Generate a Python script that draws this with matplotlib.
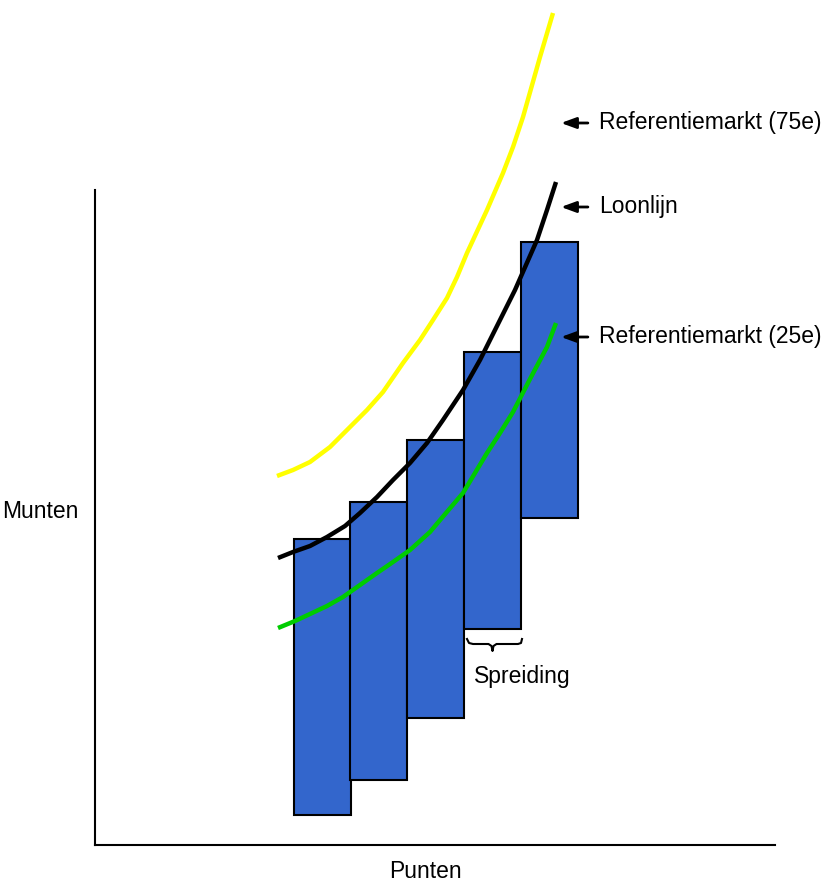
import numpy as np
import matplotlib.pyplot as plt
from matplotlib.patches import Rectangle

plt.rcParams['font.family'] = ['Liberation Sans', 'DejaVu Sans']

# salary bands (grade boxes): left edge, bottom (min) and top (max)
band_left = [199, 255, 312, 369, 426]
band_width = 57
band_min = [30, 65, 127, 216, 327]
band_max = [306, 343, 405, 493, 603]

# market and pay lines, hand drawn
p75_x = [182, 198, 215, 235, 255, 272, 288, 308, 325, 338, 352, 362, 372, 392, 408, 418, 428, 445, 458]
p75_y = [369, 375, 383, 398, 418, 435, 453, 482, 505, 525, 547, 568, 592, 635, 672, 698, 728, 788, 832]
loon_x = [183, 198, 215, 232, 250, 265, 282, 298, 315, 332, 348, 368, 385, 405, 420, 442, 452, 461]
loon_y = [287, 293, 299, 308, 319, 332, 348, 365, 382, 402, 425, 455, 485, 525, 555, 605, 635, 663]
p25_x = [183, 200, 215, 232, 248, 265, 282, 298, 315, 335, 351, 368, 392, 405, 418, 435, 452, 461]
p25_y = [217, 224, 231, 239, 248, 260, 272, 283, 295, 313, 332, 352, 392, 412, 433, 466, 498, 522]

labels = ['Referentiemarkt (75e)', 'Loonlijn', 'Referentiemarkt (25e)']
label_y = [722, 638, 508]

fig = plt.figure(figsize=(8.24, 8.82), dpi=100)
ax = fig.add_axes([95/824, 37/882, 680/824, 655/882])
ax.set_xlim(0, 680)
ax.set_ylim(0, 655)
for s in ['top', 'right']:
    ax.spines[s].set_visible(False)
for s in ['left', 'bottom']:
    ax.spines[s].set_linewidth(1.5)
ax.set_xticks([])
ax.set_yticks([])

for x0, lo, hi in zip(band_left, band_min, band_max):
    ax.add_patch(Rectangle((x0, lo), band_width, hi - lo, facecolor='#3366CC',
                           edgecolor='black', linewidth=1.5, zorder=2))

line_kw = dict(lw=3.2, clip_on=False, zorder=3, solid_capstyle='butt', solid_joinstyle='round')
ax.plot(p75_x, p75_y, color='#FFFF00', **line_kw)
ax.plot(loon_x, loon_y, color='black', **line_kw)
ax.plot(p25_x, p25_y, color='#00CC00', **line_kw)

for lab, y in zip(labels, label_y):
    ax.annotate(lab, xy=(466, y), xytext=(504, y), fontsize=16.5, va='center', ha='left',
                annotation_clip=False,
                arrowprops=dict(arrowstyle='-|>,head_length=0.6,head_width=0.22',
                                color='black', lw=2, mutation_scale=15,
                                shrinkA=6, shrinkB=0))

# brace under the fourth band
b0 = band_left[3] + 3
b1 = band_left[3] + band_width + 1
yb = band_min[3] - 15
mid = (b0 + b1) / 2 - 2
bx = [b0, b0 + 2, b0 + 6, mid - 4, mid - 1, mid, mid + 1, mid + 4, b1 - 4, b1 - 1, b1]
by = [yb + 5, yb + 1, yb, yb, yb - 2, yb - 7, yb - 2, yb, yb, yb + 1, yb + 5]
ax.plot(bx, by, color='black', lw=1.5, clip_on=False)
ax.text(b1, band_min[3] - 48, 'Spreiding', fontsize=16.5, ha='center', va='center')

ax.text(-55, 334, 'Munten', fontsize=16.5, ha='center', va='center')
ax.text(330, -27, 'Punten', fontsize=16.5, ha='center', va='center')

plt.savefig('out.png', dpi=100)
plt.close()
